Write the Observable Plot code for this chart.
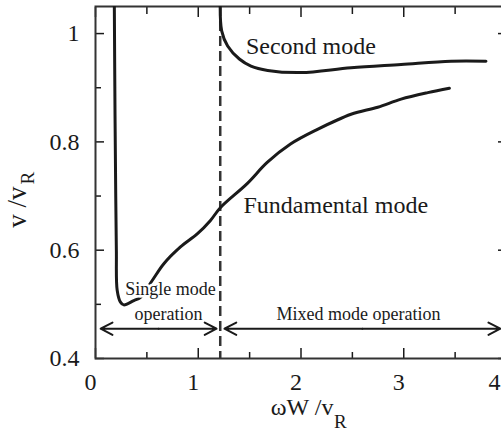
<!DOCTYPE html>
<html>
<head>
<meta charset="utf-8">
<script src="https://cdn.jsdelivr.net/npm/d3@7"></script>
<script src="https://cdn.jsdelivr.net/npm/@observablehq/plot@0.6"></script>
<style>
  html, body { margin: 0; padding: 0; background: #fff; overflow: hidden; }
  svg { max-width: none !important; }
  svg text { font-family: "Liberation Serif", "Times New Roman", Times, serif !important; }
</style>
</head>
<body>
<div id="chart"></div>
<script>
// Fundamental mode curve
const fundX = [0.183, 0.19, 0.197, 0.203, 0.211, 0.243, 0.275, 0.373, 0.438, 0.552, 0.665, 0.827, 0.99, 1.119, 1.217, 1.476, 1.671, 1.898, 2.16, 2.487, 2.747, 2.974, 3.234, 3.444];
const fundY = [1.06, 0.85, 0.70, 0.60, 0.526, 0.504, 0.499, 0.507, 0.513, 0.544, 0.575, 0.606, 0.630, 0.655, 0.679, 0.723, 0.762, 0.796, 0.823, 0.851, 0.864, 0.879, 0.891, 0.899];
// Second mode curve
const secX = [1.214, 1.228, 1.286, 1.40, 1.513, 1.676, 2.0, 2.487, 2.974, 3.46, 3.80];
const secY = [1.06, 1.005, 0.977, 0.953, 0.94, 0.932, 0.928, 0.937, 0.943, 0.949, 0.949];
// Cut-off between single and mixed mode
const cutoffX = [1.214];
// Operation ranges (arrows)
const rangeStart = [0.05, 1.255];
const rangeEnd = [1.178, 3.94];
const rangeY = 0.455;
// Tick values
const xMajor = [0, 1, 2, 3];
const xEdge = [4];
const xMinor = [0.5, 1.5, 2.5, 3.5];
const yMajor = [0.4, 0.6, 0.8, 1];
const yMinor = [0.5, 0.7, 0.9];
// Annotation labels
const curveLabels = [
  {x: 1.464, y: 0.977, text: "Second mode"},
  {x: 1.44, y: 0.682, text: "Fundamental mode"}
];
const rangeLabels = [
  {x: 2.56, y: 0.481, text: "Mixed mode operation"},
  {x: 0.71, y: 0.481, text: "operation"}
];
const haloLabels = [{x: 0.73, y: 0.527, text: "Single mode"}];

const fund = fundX.map((x, i) => ({x, y: fundY[i]}));
const sec = secX.map((x, i) => ({x, y: secY[i]}));
const arrows = [];
rangeStart.forEach((s, i) => {
  const m = (s + rangeEnd[i]) / 2;
  arrows.push({x1: m, x2: s}, {x1: m, x2: rangeEnd[i]});
});

const ink = "#1a1a1a";

const chart = Plot.plot({
  width: 506,
  height: 438,
  marginLeft: 95,
  marginRight: 0,
  marginTop: 6,
  marginBottom: 80,
  style: {fontSize: "24px", color: ink, background: "#fff", overflow: "visible"},
  x: {domain: [0, 4]},
  y: {domain: [0.4, 1.05]},
  marks: [
    // tick labels
    Plot.axisY({anchor: "left", ticks: yMajor, tickSize: 0, tickPadding: 16, tickFormat: d => String(d), fontSize: 24, label: null}),
    Plot.axisX({anchor: "bottom", ticks: xMajor, tickSize: 0, tickPadding: 14, dx: -5, tickFormat: d => String(d), fontSize: 24, label: null}),
    Plot.axisX({anchor: "bottom", ticks: xEdge, tickSize: 0, tickPadding: 14, dx: -12, tickFormat: d => String(d), fontSize: 24, label: null}),
    // inward ticks
    Plot.axisY({anchor: "left", ticks: yMajor, tickSize: -9, tickFormat: () => "", label: null, strokeWidth: 1.5}),
    Plot.axisY({anchor: "left", ticks: yMinor, tickSize: -6, tickFormat: () => "", label: null, strokeWidth: 1.5}),
    Plot.axisY({anchor: "right", ticks: yMajor, tickSize: -9, tickFormat: () => "", label: null, strokeWidth: 1.5}),
    Plot.axisY({anchor: "right", ticks: yMinor, tickSize: -6, tickFormat: () => "", label: null, strokeWidth: 1.5}),
    Plot.axisX({anchor: "bottom", ticks: xMajor.concat(xEdge), tickSize: -10, tickFormat: () => "", label: null, strokeWidth: 1.5}),
    Plot.axisX({anchor: "bottom", ticks: xMinor, tickSize: -6, tickFormat: () => "", label: null, strokeWidth: 1.5}),
    Plot.axisX({anchor: "top", ticks: xMajor.concat(xEdge), tickSize: -10, tickFormat: () => "", label: null, strokeWidth: 1.5}),
    Plot.axisX({anchor: "top", ticks: xMinor, tickSize: -7, tickFormat: () => "", label: null, strokeWidth: 1.5}),
    Plot.frame({stroke: "#333", strokeWidth: 2}),
    // cut-off line
    Plot.ruleX(cutoffX, {stroke: "#333", strokeWidth: 2.5, strokeDasharray: "10,5"}),
    // curves
    Plot.line(fund, {x: "x", y: "y", curve: "catmull-rom", stroke: ink, strokeWidth: 3, clip: true}),
    Plot.line(sec, {x: "x", y: "y", curve: "catmull-rom", stroke: ink, strokeWidth: 3, clip: true}),
    // range arrows
    Plot.arrow(arrows, {x1: "x1", x2: "x2", y1: () => rangeY, y2: () => rangeY, stroke: ink, strokeWidth: 2, headLength: 10, headAngle: 55}),
    // annotations
    Plot.text(curveLabels, {x: "x", y: "y", text: "text", textAnchor: "start", fontSize: 24, fill: ink}),
    Plot.text(rangeLabels, {x: "x", y: "y", text: "text", textAnchor: "middle", fontSize: 18, fill: ink}),
    Plot.text(haloLabels, {x: "x", y: "y", text: "text", fontSize: 18, fill: ink, stroke: "white", strokeWidth: 5}),
    // axis titles
    Plot.text(["ωW /v"], {frameAnchor: "bottom", text: d => d, textAnchor: "end", dx: 32.5, dy: 56, fontSize: 24, fill: ink}),
    Plot.text(["R"], {frameAnchor: "bottom", text: d => d, textAnchor: "start", dx: 33, dy: 69, fontSize: 19, fill: ink}),
    Plot.text(["v /v"], {frameAnchor: "left", text: d => d, rotate: -90, textAnchor: "end", dx: -78, dy: 4, fontSize: 27, fill: ink}),
    Plot.text(["R"], {frameAnchor: "left", text: d => d, rotate: -90, textAnchor: "start", dx: -68, dy: 2, fontSize: 19, fill: ink})
  ]
});
document.getElementById("chart").appendChild(chart);
</script>
</body>
</html>
